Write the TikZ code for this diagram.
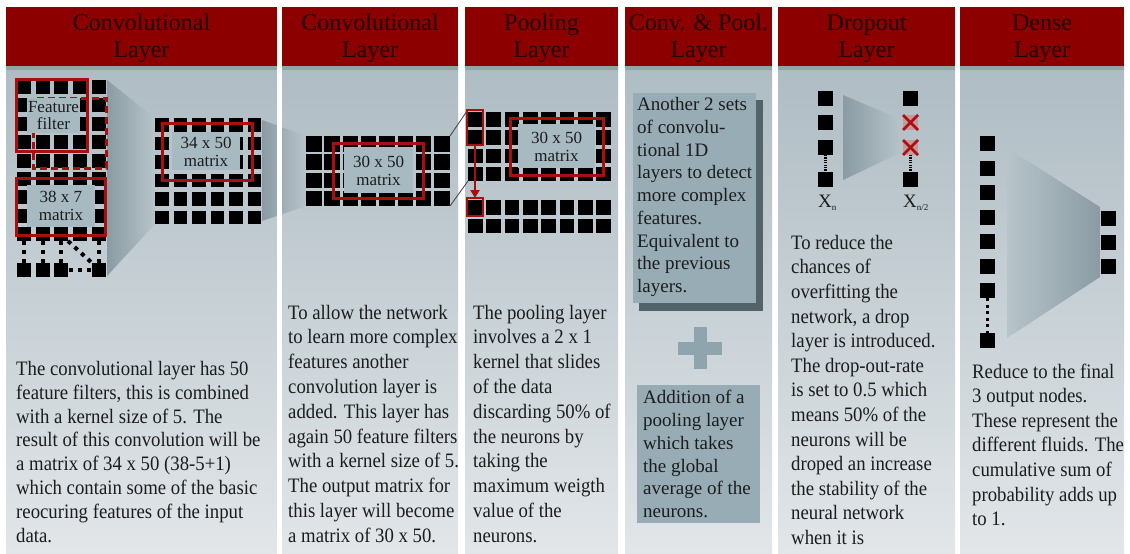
\documentclass[tikz,border=0pt]{standalone}
\usepackage{fontspec}
\setmainfont{Liberation Serif}
\newfontfamily\bodyfont[FakeStretch=0.915]{Liberation Serif}
\usetikzlibrary{arrows.meta}
\definecolor{hdr}{HTML}{8C0000}
\definecolor{hdrtxt}{HTML}{1E0000}
\definecolor{bgtop}{HTML}{AEBCC3}
\definecolor{bgbot}{HTML}{E2E6E9}
\definecolor{bgband}{HTML}{93A3AA}
\definecolor{txt}{HTML}{1C1C1C}
\definecolor{frame}{HTML}{A80F0F}
\definecolor{lbl}{HTML}{A7BAC2}
\definecolor{boxfill}{HTML}{97ACB5}
\definecolor{shadow}{HTML}{53636A}
\definecolor{plus}{HTML}{8FA5AE}
\definecolor{funA}{HTML}{8A9BA3}
\definecolor{funB}{HTML}{B7C4CA}
\definecolor{pink}{HTML}{C8989D}
\begin{document}
\begin{tikzpicture}[x=1pt,y=-1pt,
  hdrbar/.style={fill=hdr},
  hdrtext/.style={anchor=north,inner sep=0,align=center,text=hdrtxt,font=\fontsize{24}{27}\selectfont},
  body/.style={anchor=north west,inner sep=0,align=left,text=txt,font=\bodyfont\fontsize{20.5}{24.8}\selectfont},
  body1/.style={anchor=north west,inner sep=0,align=left,text=txt,font=\bodyfont\fontsize{20.5}{23.8}\selectfont},
  body5/.style={anchor=north west,inner sep=0,align=left,text=txt,font=\bodyfont\fontsize{20.5}{24.6}\selectfont},
  boxtext/.style={anchor=north west,inner sep=0,align=left,text=txt,font=\fontsize{19}{22.75}\selectfont},
  lbltext/.style={inner sep=0,align=center,text=txt,font=\fontsize{17}{18.5}\selectfont},
  redframe/.style={draw=frame,line width=3},
  dotline/.style={line width=4,dash pattern=on 4pt off 5pt},
  densedot/.style={line width=3.5,dash pattern=on 3pt off 3.5pt},
  dropdot/.style={line width=3.5,dash pattern=on 1.2pt off 1.2pt},
  xlab/.style={inner sep=0,anchor=base west,text=txt,font=\fontsize{19}{19}\selectfont}]
\useasboundingbox (0,0) rectangle (1130,554);
\fill[white] (0,0) rectangle (1130,554);
% column backgrounds and headers
\foreach \a/\b in {6/277,282/458,465/618,625/772,778/955,960/1124}{
  \shade[top color=bgtop,bottom color=bgbot] (\a,66) rectangle (\b,554);
  \fill[bgband] (\a,66) rectangle (\b,70);
  \fill[hdrbar] (\a,7) rectangle (\b,66);
}
\node[hdrtext] (h1) at (141.5,11.6) {\strut Convolutional\\Layer};
\node[hdrtext] (h2) at (370,11.6) {\strut Convolutional\\Layer};
\node[hdrtext] (h3) at (541.5,11.6) {\strut Pooling\\Layer};
\node[hdrtext] (h4) at (698.5,11.6) {\strut Conv. \& Pool.\\Layer};
\node[hdrtext] (h5) at (866.5,11.6) {\strut Dropout\\Layer};
\node[hdrtext] (h6) at (1042,11.6) {\strut Dense\\Layer};

% ---------- column 1 ----------
% funnels
\shade[left color=funA,right color=funB] (107,80) -- (155,118) -- (155,224) -- (107,276) -- cycle;
\shade[left color=funA,right color=funB] (262,120) -- (306,136) -- (306,206) -- (262,221) -- cycle;
\fill[white] (277,66) rectangle (282,554);
% left grid
\foreach \i in {0,...,4}{
  \foreach \j in {0,...,8}{
    \fill[black] (17+\i*18.7,80+\j*18.4) rectangle ++(14,14);
  }
}
\foreach \i in {0,1,2,4}{
  \draw[dotline] (24+\i*18.7,241) -- (24+\i*18.7,263);
  \fill[black] (17+\i*18.7,263) rectangle ++(14,14);
}
\draw[dotline] (69,270) -- (92,270);
\draw[dotline] (68,241) -- (92,263);
% dashed frame, feature filter
\draw[draw=frame,line width=3,dash pattern=on 7pt off 4pt] (33,98) rectangle (106,168);
\fill[lbl] (27,98) rectangle (80,133);
\node[lbltext,font=\fontsize{17}{17}\selectfont] (ff) at (53.5,115.5) {Feature\\filter};
\draw[redframe] (16,79) rectangle (87,151);
% 38 x 7
\fill[lbl] (27,185) rectangle (95,227);
\node[lbltext] (m38) at (61,206) {38 x 7\\matrix};
\draw[redframe] (16,178) rectangle (105,235);
% middle grid 34 x 50
\foreach \i in {0,...,5}{
  \foreach \j in {0,...,5}{
    \fill[black] (155+\i*18.5,118+\j*18.5) rectangle ++(13.5,13.5);
  }
}
\fill[lbl] (172,132) rectangle (240,170);
\node[lbltext] (m34) at (206,152) {34 x 50\\matrix};
\draw[redframe] (162,123) rectangle (252,180);
\node[body1] (t1) at (16,358.6) {\strut The convolutional layer has 50\\feature filters, this is combined\\with a kernel size of 5. The\\result of this convolution will be\\a matrix of 34 x 50 (38-5+1)\\which contain some of the basic\\reocuring features of the input\\data.};

% ---------- column 2 ----------
\foreach \i in {0,...,7}{
  \foreach \j in {0,...,3}{
    \fill[black] (306+\i*18.3,136+\j*18.3) rectangle ++(15.5,15.5);
  }
}
\fill[lbl] (344,147) rectangle (413,193);
\node[lbltext] (m30a) at (378.5,171) {30 x 50\\matrix};
\draw[redframe] (333,143) rectangle (423,198);
\node[body] (t2) at (288,301.6) {\strut To allow the network\\to learn more complex\\features another\\convolution layer is\\added. This layer has\\again 50 feature filters\\with a kernel size of 5.\\The output matrix for\\this layer will become\\a matrix of 30 x 50.};

% ---------- column 3 ----------
\foreach \i in {0,...,7}{
  \foreach \j in {0,...,3}{
    \fill[black] (468+\i*18.35,112+\j*18.3) rectangle ++(14.5,14.5);
  }
  \foreach \j in {0,1}{
    \fill[black] (468+\i*18.35,200+\j*18.5) rectangle ++(14.5,14.5);
  }
}
\coordinate (g2tr) at (450,136);
\coordinate (g2br) at (450,206);
\coordinate (p3tl) at (467,111);
\coordinate (p3bl) at (468,181);
\draw[black!75,line width=0.8] (g2tr) -- (p3tl);
\draw[black!75,line width=0.8] (g2br) -- (p3bl);
\draw[draw=frame,line width=2.5] (467,110) rectangle (483,145);
\draw[draw=frame,line width=2.5] (467,198) rectangle (483,216);
\draw[draw=frame,line width=2.5,-{Triangle[length=8pt,width=9pt]}] (475,145) -- (475,198);
\fill[lbl] (518,124) rectangle (595,168);
\node[lbltext] (m30b) at (556.5,147) {30 x 50\\matrix};
\draw[redframe] (510,118) rectangle (603,175);
\node[body] (t3) at (473,301.6) {\strut The pooling layer\\involves a 2 x 1\\kernel that slides\\of the data\\discarding 50\% of\\the neurons by\\taking the\\maximum weigth\\value of the\\neurons.};

% ---------- column 4 ----------
\fill[shadow] (639,100) rectangle (763,311);
\fill[boxfill] (633,93) rectangle (756,303);
\node[boxtext] (b1) at (637,94.6) {\strut Another 2 sets\\of convolu-\\tional 1D\\layers to detect\\more complex\\features.\\Equivalent to\\the previous\\layers.};
\fill[plus] (678,342) rectangle (722,355);
\fill[plus] (694,327) rectangle (707,369);
\fill[boxfill] (637,385) rectangle (760,523);
\node[boxtext] (b2) at (643,387.7) {\strut Addition of a\\pooling layer\\which takes\\the global\\average of the\\neurons.};

% ---------- column 5 ----------
\shade[left color=funA,right color=funB] (843,95) -- (902,120) -- (902,152) -- (843,180) -- cycle;
\foreach \y in {91,115,140,172}{
  \fill[black] (818,\y) rectangle ++(15,15);
}
\draw[dropdot] (825.5,155) -- (825.5,172);
\fill[black] (903,91) rectangle ++(15,15);
\fill[black] (903,172) rectangle ++(15,15);
\foreach \y in {115,140}{
  \fill[pink] (903,\y) rectangle ++(15,15);
  \draw[frame,line width=2.5] (903,\y) -- ++(15,15);
  \draw[frame,line width=2.5] (918,\y) -- ++(-15,15);
}
\draw[dropdot] (910.5,155) -- (910.5,172);
\node[xlab] (xn) at (818,207) {X\raisebox{-3pt}{\fontsize{9}{9}\selectfont n}};
\node[xlab] (xn2) at (903,207) {X\raisebox{-3pt}{\fontsize{9}{9}\selectfont n/2}};
\node[body5] (t5) at (791,231.8) {\strut To reduce the\\chances of\\overfitting the\\network, a drop\\layer is introduced.\\The drop-out-rate\\is set to 0.5 which\\means 50\% of the\\neurons will be\\droped an increase\\the stability of the\\neural network\\when it is};

% ---------- column 6 ----------
\shade[left color=funB,right color=funA] (1007,148) -- (1100,207) -- (1100,277) -- (1007,338) -- cycle;
\foreach \y in {136,160.5,185,209.5,234,258.5,283,333}{
  \fill[black] (980,\y) rectangle ++(15,15);
}
\draw[densedot] (987.5,298) -- (987.5,333);
\foreach \y in {211,235,259}{
  \fill[black] (1101,\y) rectangle ++(15,15);
}
\node[body5] (t6) at (972,360.6) {\strut Reduce to the final\\3 output nodes.\\These represent the\\different fluids. The\\cumulative sum of\\probability adds up\\to 1.};
\end{tikzpicture}
\end{document}
